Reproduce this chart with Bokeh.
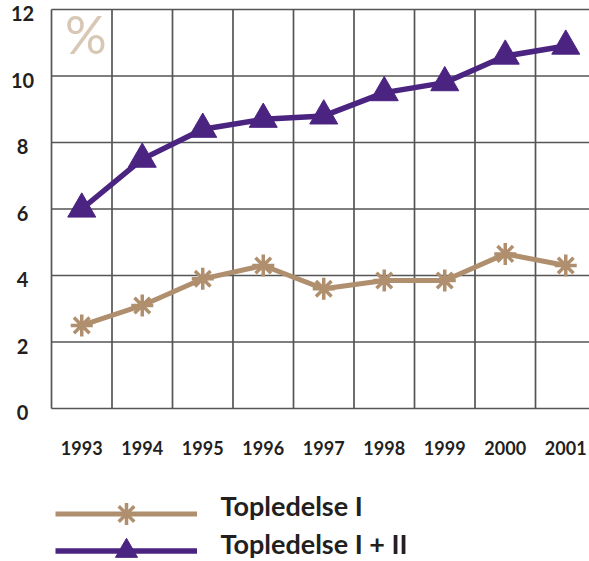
from bokeh.plotting import figure
from bokeh.models import Range1d, Legend, LegendItem, Label
from bokeh.core.properties import value
from bokeh.embed import file_html
from bokeh.resources import INLINE

years = [1993, 1994, 1995, 1996, 1997, 1998, 1999, 2000, 2001]
top_i = [2.5, 3.1, 3.9, 4.3, 3.6, 3.85, 3.85, 4.65, 4.3]
top_i_ii = [6.0, 7.5, 8.4, 8.7, 8.8, 9.5, 9.8, 10.6, 10.9]
y_ticks = [0, 2, 4, 6, 8, 10, 12]
year_labels = [str(y) for y in years]
y_labels = [str(v) for v in y_ticks]
series_names = ["Topledelse I", "Topledelse I + II"]

TAN = "#b08f6e"
PURPLE = "#4b2381"
GRID = "#555555"
TEXT = "#231f20"
FONT = "Lato"

W, H = 589, 561
GRID_LEFT_PX = 51         # pixel column of the first cell boundary
CELL = 60.5               # px per year
PX_PER_UNIT = 33.25       # px per y unit
Y12_PX, Y0_PX = 9, 408    # pixel rows of 12 and 0

bounds = [y - 0.5 for y in years] + [years[-1] + 0.5]
x_start = bounds[0] - GRID_LEFT_PX / CELL
x_end = x_start + W / CELL
y_end = y_ticks[-1] + Y12_PX / PX_PER_UNIT
y_start = y_ticks[0] - (H - Y0_PX) / PX_PER_UNIT

p = figure(width=W, height=H,
           x_range=Range1d(x_start, x_end), y_range=Range1d(y_start, y_end),
           output_backend="svg", toolbar_location=None,
           x_axis_location=None, y_axis_location=None,
           min_border_left=0, min_border_right=0, min_border_top=0, min_border_bottom=0)
p.outline_line_color = None
p.xgrid.visible = False
p.ygrid.visible = False
p.background_fill_color = "white"
p.border_fill_color = "white"

# grid of cells
p.segment(x0=bounds, y0=[y_ticks[0]] * len(bounds), x1=bounds, y1=[y_ticks[-1]] * len(bounds),
          line_color=GRID, line_width=1.7)
p.segment(x0=[bounds[0]] * len(y_ticks), y0=y_ticks, x1=[bounds[-1]] * len(y_ticks), y1=y_ticks,
          line_color=GRID, line_width=1.7)

# y labels
p.text(x=[bounds[0]] * len(y_ticks), y=y_ticks, text=y_labels, x_offset=-29, y_offset=4,
       text_align="center", text_baseline="middle",
       text_font=value(FONT), text_font_style="bold", text_font_size="20px", text_color=TEXT)

# x labels (years) below the grid
p.text(x=years, y=[y_ticks[0]] * len(years), text=year_labels, y_offset=39,
       text_align="center", text_baseline="middle",
       text_font=value(FONT), text_font_style="bold", text_font_size="18px", text_color=TEXT)

# percent sign
p.add_layout(Label(x=years[0], y=y_ticks[-1], text="%", x_offset=4, y_offset=7,
                   text_align="center", text_baseline="top",
                   text_font=FONT, text_font_size="52px", text_color="#d8c7b4"))

# series
l1 = p.line(years, top_i, line_color=TAN, line_width=5)
s1 = p.scatter(years, top_i, marker="asterisk", size=22, line_color=TAN, line_width=3.5)
l2 = p.line(years, top_i_ii, line_color=PURPLE, line_width=5.5)
s2 = p.scatter(years, top_i_ii, marker="triangle", size=28, fill_color=PURPLE, line_color=PURPLE)

# legend: sample glyphs from the renderers, names as separate text
legend_style = dict(glyph_width=142, glyph_height=55, label_height=55, spacing=0,
                    padding=0, margin=0, border_line_color=None, background_fill_alpha=0,
                    label_standoff=0, label_text_font_size="1px")
leg1 = Legend(items=[LegendItem(label="", renderers=[l1, s1])],
              location=(55, H - 513 - 27.5), **legend_style)
leg2 = Legend(items=[LegendItem(label="", renderers=[l2, s2])],
              location=(55, H - 550 - 27.5), **legend_style)
p.add_layout(leg1)
p.add_layout(leg2)

name_style = dict(x_units="screen", y_units="screen", text_align="left",
                  text_baseline="middle", text_font=FONT, text_font_style="bold",
                  text_font_size="27px", text_color=TEXT)
p.add_layout(Label(x=220, y=H - 504.5, text=series_names[0], **name_style))
p.add_layout(Label(x=220, y=H - 543, text=series_names[1], **name_style))

open("out.html", "w").write(file_html(p, INLINE))
